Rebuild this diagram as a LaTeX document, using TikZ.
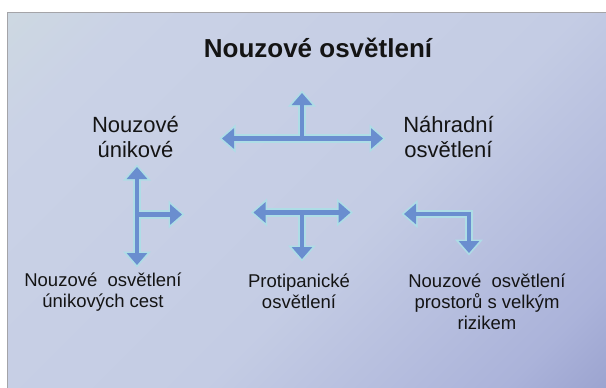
\documentclass[tikz,border=0pt]{standalone}
\usepackage{fontspec}
\setmainfont{Liberation Sans}
\usetikzlibrary{arrows.meta}
\definecolor{arrowblue}{HTML}{6A8ECF}
\definecolor{glowcyan}{HTML}{AEDDE6}
\definecolor{framegray}{HTML}{A4A4A8}
\definecolor{txt}{HTML}{141414}
\definecolor{bgA}{HTML}{B0C4AA}
\definecolor{bgB}{HTML}{CEDAE0}
\definecolor{bgC}{HTML}{CAD2E6}
\definecolor{bgD}{HTML}{C4CCE4}
\definecolor{bgE}{HTML}{ABB3DA}
\definecolor{bgF}{HTML}{7E86BC}
\pgfdeclarehorizontalshading{slidebg}{100bp}{color(0bp)=(bgA); color(12bp)=(bgB); color(24bp)=(bgC); color(56bp)=(bgD); color(78bp)=(bgE); color(100bp)=(bgF)}
\newcommand\arrowlayer[5]{%
  \begin{scope}[draw=#1, line width=#2, >={Triangle[width=#3,length=#4]},
      shorten >=#5, shorten <=#5, line join=miter]
    % top: left-right with up branch
    \draw[<->] (tL) -- (tR);
    \draw[->] (tC) -- (tU);
    % left: up-down with right branch
    \draw[<->] (lT) -- (lB);
    \draw[->] (lC) -- (lR);
    % middle: left-right with down branch
    \draw[<->] (mL) -- (mR);
    \draw[->] (mC) -- (mD);
    % right: left and down, bent
    \draw[<->] (rL) -- (rK) -- (rD);
  \end{scope}}
\tikzset{
  lbl/.style={text=txt, align=center, inner sep=0pt, anchor=base},
  titlefont/.style={font={\fontsize{26}{30}\selectfont\bfseries}},
  bigfont/.style={font={\fontsize{22}{25}\selectfont}},
  smallfont/.style={font={\fontsize{18.5}{21}\selectfont}}
}
\begin{document}
\begin{tikzpicture}[x=1pt, y=-1pt]
  \useasboundingbox (0,0) rectangle (606,388);
  \clip (0,0) rectangle (606,388);
  \fill[white] (0,0) rectangle (606,388);
  \shade[shading=slidebg, shading angle=-45] (7,12) rectangle (607,389);
  \draw[framegray, line width=1pt] (7,389) -- (7,12) -- (607,12);

  % arrow coordinates
  \coordinate (tL) at (222,138.5);
  \coordinate (tR) at (383,138.5);
  \coordinate (tC) at (302,138.5);
  \coordinate (tU) at (302,93);
  \coordinate (lT) at (137,167);
  \coordinate (lB) at (137,265);
  \coordinate (lC) at (137,214.5);
  \coordinate (lR) at (182,214.5);
  \coordinate (mL) at (253.5,212.5);
  \coordinate (mR) at (350.5,212.5);
  \coordinate (mC) at (302,212.5);
  \coordinate (mD) at (302,259);
  \coordinate (rL) at (404,214);
  \coordinate (rK) at (469,214);
  \coordinate (rD) at (469,253);

  \arrowlayer{glowcyan}{8.5pt}{27pt}{16pt}{-2.5pt}
  \arrowlayer{arrowblue}{4.6pt}{20pt}{12pt}{0pt}

  % texts (anchor base = baseline of the last line)
  \node[lbl, titlefont] (title) at (318,57) {Nouzové osvětlení};
  \node[lbl, bigfont] (unik) at (135.5,157) {Nouzové\\únikové};
  \node[lbl, bigfont] (nahr) at (448.5,157) {Náhradní\\osvětlení};
  \node[lbl, smallfont] (cest) at (103,307.5) {Nouzové\ \ osvětlení\\únikových cest};
  \node[lbl, smallfont] (prot) at (299,308) {Protipanické\\osvětlení};
  \node[lbl, smallfont] (riz) at (487,329.5) {Nouzové\ \ osvětlení\\prostorů s velkým\\rizikem};
\end{tikzpicture}
\end{document}
